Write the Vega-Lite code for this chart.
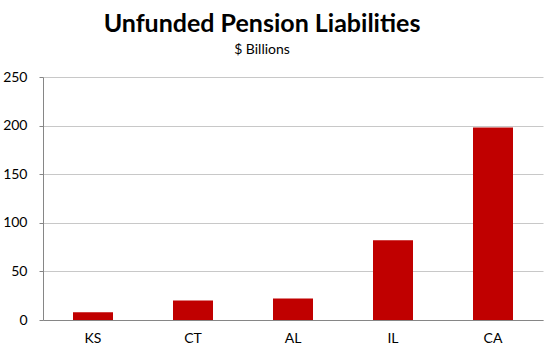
{
  "$schema": "https://vega.github.io/schema/vega-lite/v6.json",
  "width": 500,
  "height": 243,
  "autosize": {"type": "none"},
  "padding": {"left": 43, "top": 77, "right": 7, "bottom": 40},
  "background": "white",
  "title": {
    "text": "Unfunded Pension Liabilities",
    "subtitle": "$ Billions",
    "font": "Lato",
    "fontSize": 25,
    "fontWeight": "bold",
    "color": "#000000",
    "subtitleFont": "Lato",
    "subtitleFontSize": 14,
    "subtitleColor": "#000000",
    "subtitlePadding": 6,
    "anchor": "middle",
    "dx": -31,
    "offset": 13
  },
  "data": {
    "values": [
      {"state": "KS", "value": 8},
      {"state": "CT", "value": 20},
      {"state": "AL", "value": 22},
      {"state": "IL", "value": 82},
      {"state": "CA", "value": 198}
    ]
  },
  "mark": {"type": "bar", "color": "#C00000"},
  "encoding": {
    "x": {
      "field": "state",
      "type": "nominal",
      "sort": null,
      "scale": {"paddingInner": 0.6, "paddingOuter": 0.3},
      "axis": {
        "title": null,
        "labelAngle": 0,
        "labelFont": "Lato",
        "labelFontSize": 14,
        "labelColor": "#000000",
        "labelPadding": 11,
        "ticks": false,
        "domainColor": "#868686",
        "grid": false
      }
    },
    "y": {
      "field": "value",
      "type": "quantitative",
      "scale": {"domain": [0, 250], "nice": false},
      "axis": {
        "title": null,
        "values": [0, 50, 100, 150, 200, 250],
        "labelFont": "Lato",
        "labelFontSize": 14,
        "labelColor": "#000000",
        "labelPadding": 12,
        "tickSize": 4,
        "tickColor": "#868686",
        "domainColor": "#868686",
        "gridColor": "#c8c8c8"
      }
    }
  },
  "config": {"view": {"stroke": null}}
}
